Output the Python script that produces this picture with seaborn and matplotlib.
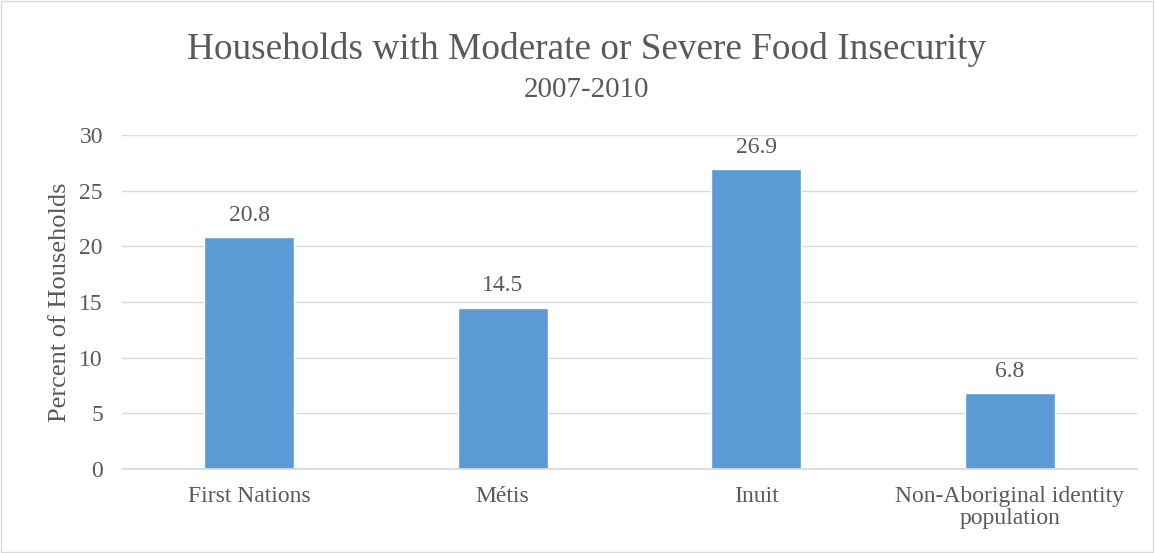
import matplotlib
import pandas as pd

matplotlib.use("Agg")
import matplotlib.pyplot as plt
import seaborn as sns
from matplotlib.patches import Rectangle

CATEGORIES = ["First Nations", "Métis", "Inuit", "Non-Aboriginal identity\npopulation"]
VALUES = [20.8, 14.5, 26.9, 6.8]
Y_TICKS = [0, 5, 10, 15, 20, 25, 30]

BAR_COLOR = "#5B9BD5"
TEXT_COLOR = "#595959"
GRID_COLOR = "#D9D9D9"


def main() -> None:
    sns.set_theme(style="white")
    plt.rcParams["font.family"] = ["Liberation Serif", "DejaVu Serif"]

    df = pd.DataFrame({"group": CATEGORIES, "value": VALUES})

    fig = plt.figure(figsize=(11.55, 5.53), dpi=100)
    ax = fig.add_axes([0.106, 0.152, 0.878, 0.604])
    sns.barplot(data=df, x="group", y="value", color=BAR_COLOR, width=0.355,
                saturation=1, ax=ax)

    ax.set_ylim(0, 30)
    ax.set_yticks(Y_TICKS)
    ax.yaxis.grid(True, color=GRID_COLOR, linewidth=1)
    ax.set_axisbelow(True)
    for side in ["top", "right", "left"]:
        ax.spines[side].set_visible(False)
    ax.spines["bottom"].set_color(GRID_COLOR)
    ax.tick_params(axis="both", length=0, labelsize=17, colors=TEXT_COLOR)
    ax.tick_params(axis="y", pad=14)
    ax.tick_params(axis="x", pad=12)
    for label in ax.get_xticklabels():
        label.set_linespacing(1.1)
    ax.set_xlabel("")
    ax.set_ylabel("Percent of Households", fontsize=19, color=TEXT_COLOR, labelpad=6)

    for patch, value in zip(ax.patches, VALUES):
        ax.text(patch.get_x() + patch.get_width() / 2, patch.get_height() + 1.0,
                f"{value}", ha="center", va="bottom", fontsize=17, color=TEXT_COLOR)

    fig.text(0.508, 0.910, "Households with Moderate or Severe Food Insecurity",
             ha="center", va="center", fontsize=26.8, color=TEXT_COLOR)
    fig.text(0.508, 0.838, "2007-2010", ha="center", va="center",
             fontsize=20.8, color=TEXT_COLOR)

    fig.patches.append(Rectangle((0.001, 0.002), 0.997, 0.996, transform=fig.transFigure,
                                 fill=False, edgecolor=GRID_COLOR, linewidth=1))

    fig.savefig("out.png", dpi=100)
    plt.close(fig)


if __name__ == "__main__":
    main()
